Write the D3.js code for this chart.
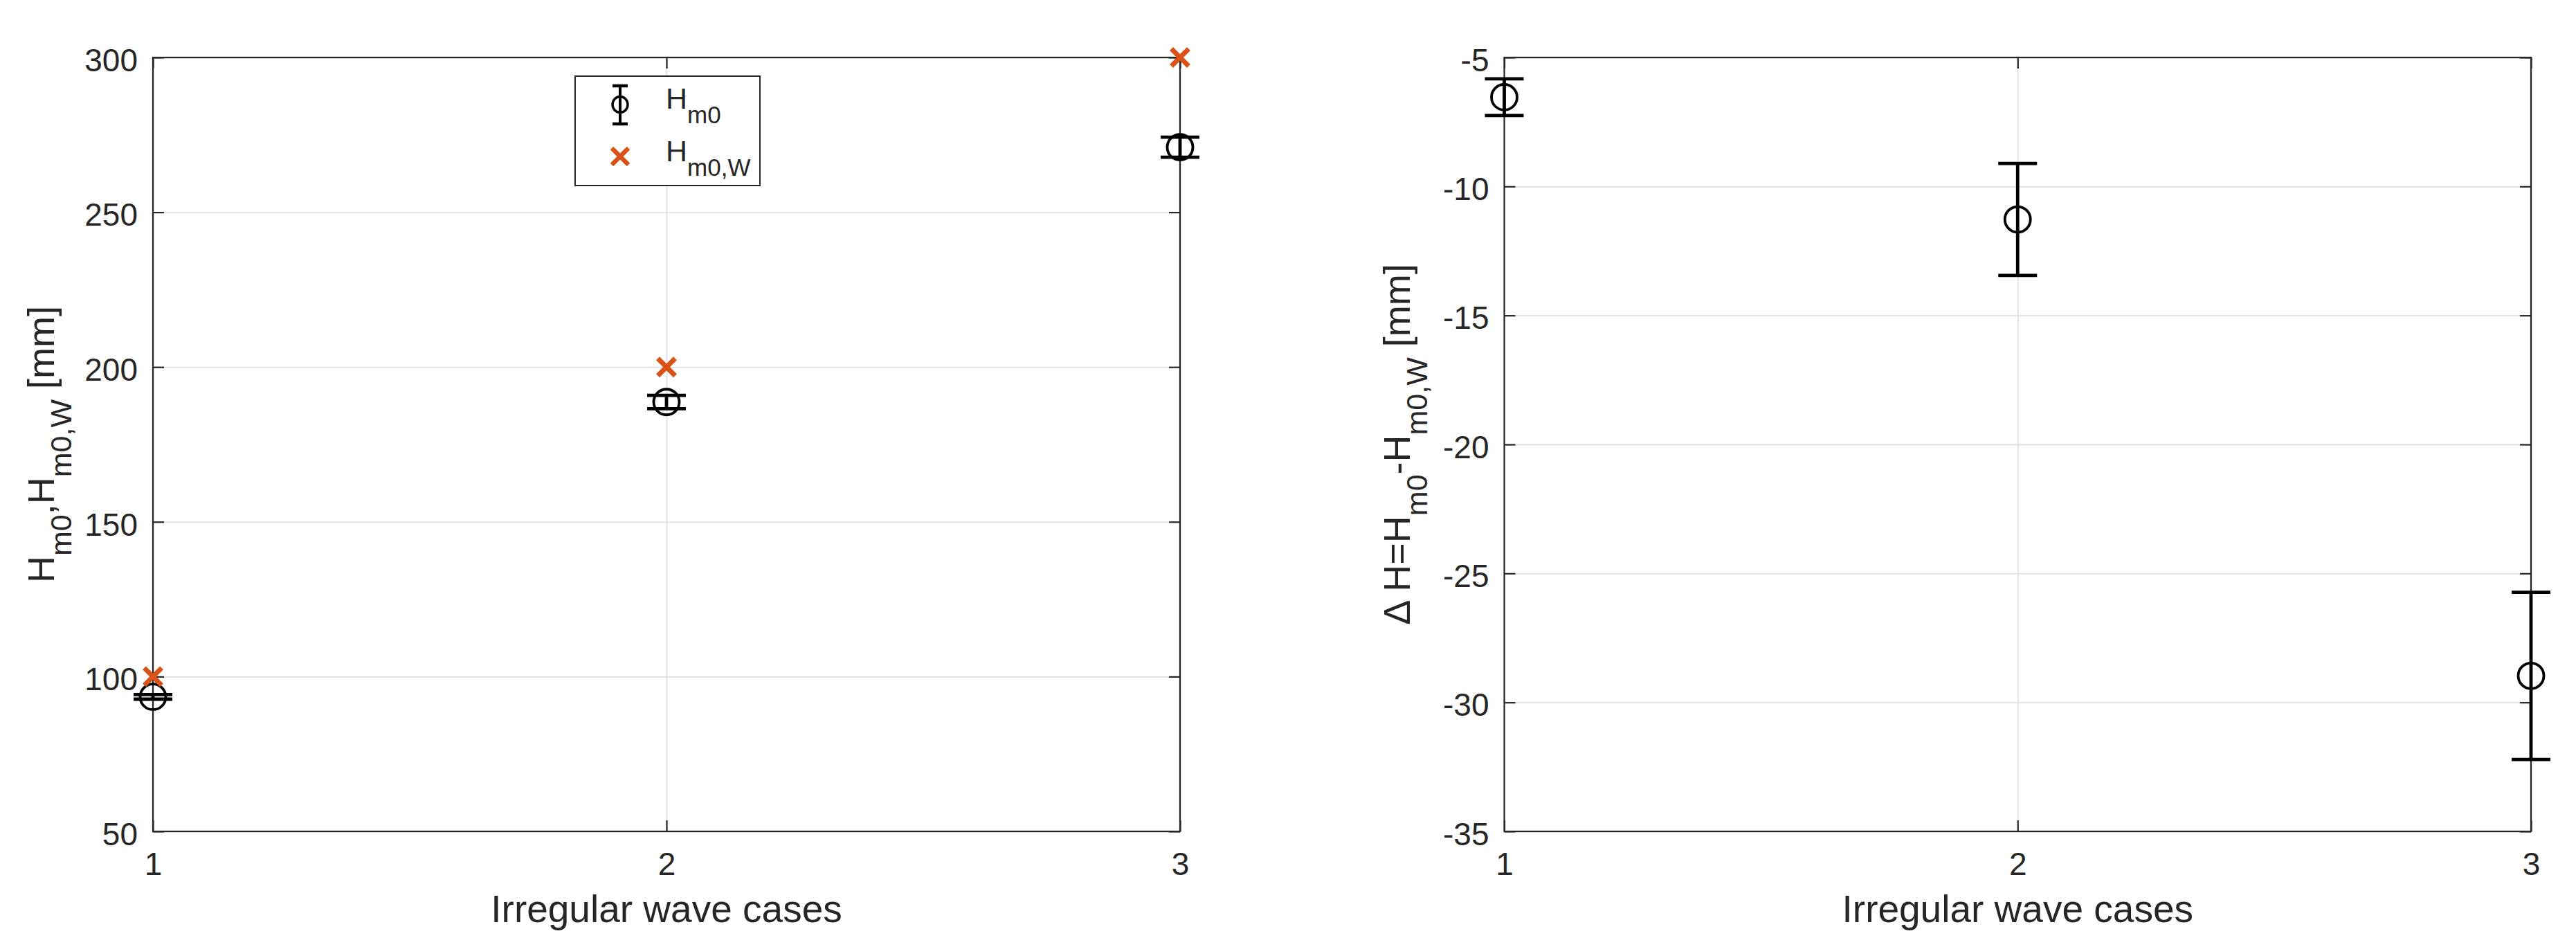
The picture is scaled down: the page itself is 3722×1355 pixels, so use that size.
<!DOCTYPE html>
<html>
<head>
<meta charset="utf-8">
<script src="https://cdn.jsdelivr.net/npm/d3@7"></script>
<style>
  body { margin: 0; background: #fff; }
  svg { display: block; }
  text { font-family: "Liberation Sans", Arial, Helvetica, sans-serif; fill: #262626; }
</style>
</head>
<body>
<div class="mainCont"></div>
<script>
// data
var cases = [1, 2, 3];
var hm0 = [93.46, 188.7, 271.0];
var hm0Err = [0.75, 2.17, 3.24];
var hm0W = [100, 200, 300];
var dH = [-6.54, -11.28, -28.97];
var dHErr = [0.71, 2.17, 3.24];
var xTicks = [1, 2, 3];
var leftTicks = [50, 100, 150, 200, 250, 300];
var rightTicks = [-35, -30, -25, -20, -15, -10, -5];

var W = 3722, H = 1355;
var axisColor = "#262626", gridColor = "#dfdfdf", orange = "#D95319";

var svg = d3.select(".mainCont").append("svg")
    .attr("width", W)
    .attr("height", H);
svg.append("rect").attr("width", W).attr("height", H).attr("fill", "#fff");

function panel(opt) {
    var w = opt.x1 - opt.x0, h = opt.y1 - opt.y0;
    var x = d3.scaleLinear().domain([1, 3]).range([0, w]);
    var y = d3.scaleLinear().domain(opt.yDomain).range([h, 0]);

    var g = svg.append("g").attr("transform", "translate(" + opt.x0 + "," + opt.y0 + ")");

    // grid
    var gy = g.append("g").call(d3.axisLeft(y).tickValues(opt.yTicks).tickSize(-w).tickFormat(""));
    var gx = g.append("g").attr("transform", "translate(0," + h + ")")
        .call(d3.axisBottom(x).tickValues(xTicks).tickSize(-h).tickFormat(""));
    [gy, gx].forEach(function(a) {
        a.select(".domain").remove();
        a.selectAll("line").attr("stroke", gridColor).attr("stroke-width", 1.8);
    });

    // box
    g.append("rect").attr("width", w).attr("height", h)
        .attr("fill", "none").attr("stroke", axisColor).attr("stroke-width", 2.2);

    // axes with inward ticks, plain hyphen for minus like the original
    var plain = function(d) { return String(d); };
    var left = g.append("g").call(d3.axisLeft(y).tickValues(opt.yTicks).tickSizeInner(-16).tickSizeOuter(0).tickPadding(22).tickFormat(plain));
    var right = g.append("g").attr("transform", "translate(" + w + ",0)")
        .call(d3.axisRight(y).tickValues(opt.yTicks).tickSizeInner(-16).tickSizeOuter(0).tickFormat(""));
    var bottom = g.append("g").attr("transform", "translate(0," + h + ")")
        .call(d3.axisBottom(x).tickValues(xTicks).tickSizeInner(-16).tickSizeOuter(0).tickPadding(30).tickFormat(plain));
    var top = g.append("g")
        .call(d3.axisTop(x).tickValues(xTicks).tickSizeInner(-16).tickSizeOuter(0).tickFormat(""));
    [left, right, bottom, top].forEach(function(a) {
        a.select(".domain").remove();
        a.selectAll("line").attr("stroke", axisColor).attr("stroke-width", 2.2);
        a.attr("font-family", null).attr("font-size", null);
        a.selectAll("text").attr("fill", axisColor).style("font-size", "46px");
    });
    left.selectAll("text").attr("dy", "0.42em");

    // x label
    g.append("text")
        .attr("x", w / 2).attr("y", 1332 - opt.y0)
        .attr("text-anchor", "middle")
        .style("font-size", "55px")
        .text("Irregular wave cases");

    // y label with subscripts
    var yl = g.append("text")
        .attr("transform", "translate(" + (opt.ylabX - opt.x0) + "," + (h / 2) + ") rotate(-90)")
        .attr("text-anchor", "middle")
        .style("font-size", "54px");
    opt.ylabel.forEach(function(p) {
        var t = yl.append("tspan").text(p[0]);
        if (p[1] === "sub") t.style("font-size", "43px").attr("dy", 25);
        if (p[1] === "back") t.attr("dy", -25);
    });

    // error bars
    var pts = cases.map(function(c, i) { return { c: c, v: opt.vals[i], e: opt.errs[i] }; });
    var eb = g.selectAll(".eb").data(pts).enter().append("g").attr("class", "eb");
    eb.append("line")
        .attr("x1", function(d) { return x(d.c); }).attr("x2", function(d) { return x(d.c); })
        .attr("y1", function(d) { return y(d.v + d.e); }).attr("y2", function(d) { return y(d.v - d.e); })
        .attr("stroke", "#000").attr("stroke-width", 4.8);
    [1, -1].forEach(function(s) {
        eb.append("line")
            .attr("x1", function(d) { return x(d.c) - 28; }).attr("x2", function(d) { return x(d.c) + 28; })
            .attr("y1", function(d) { return y(d.v + s * d.e); }).attr("y2", function(d) { return y(d.v + s * d.e); })
            .attr("stroke", "#000").attr("stroke-width", 4.8);
    });
    eb.append("circle")
        .attr("cx", function(d) { return x(d.c); }).attr("cy", function(d) { return y(d.v); })
        .attr("r", 18.5).attr("fill", "none").attr("stroke", "#000").attr("stroke-width", 3.8);

    if (opt.crosses) {
        g.selectAll(".cross").data(opt.crosses).enter().append("path")
            .attr("class", "cross")
            .attr("d", function(d, i) { return crossPath(x(cases[i]), y(d), 12.5); })
            .attr("stroke", orange).attr("stroke-width", 7).attr("fill", "none");
    }
    return g;
}

function crossPath(cx, cy, s) {
    return "M" + (cx - s) + "," + (cy - s) + "L" + (cx + s) + "," + (cy + s) +
        "M" + (cx - s) + "," + (cy + s) + "L" + (cx + s) + "," + (cy - s);
}

panel({
    x0: 221, x1: 1705, y0: 83, y1: 1201,
    yDomain: [50, 300], yTicks: leftTicks,
    vals: hm0, errs: hm0Err, crosses: hm0W,
    ylabX: 78,
    ylabel: [["H"], ["m0", "sub"], [",H", "back"], ["m0,W", "sub"], [" [mm]", "back"]]
});

panel({
    x0: 2173.5, x1: 3657, y0: 83, y1: 1201,
    yDomain: [-35, -5], yTicks: rightTicks,
    vals: dH, errs: dHErr, crosses: null,
    ylabX: 2037,
    ylabel: [["\u0394 H=H"], ["m0", "sub"], ["-H", "back"], ["m0,W", "sub"], [" [mm]", "back"]]
});

// legend (left panel)
var leg = svg.append("g");
leg.append("rect").attr("x", 831).attr("y", 110).attr("width", 267).attr("height", 158)
    .attr("fill", "#fff").attr("stroke", axisColor).attr("stroke-width", 2);
leg.append("line").attr("x1", 896).attr("x2", 896).attr("y1", 124).attr("y2", 179)
    .attr("stroke", "#000").attr("stroke-width", 4);
[124, 179].forEach(function(yy) {
    leg.append("line").attr("x1", 885).attr("x2", 907).attr("y1", yy).attr("y2", yy)
        .attr("stroke", "#000").attr("stroke-width", 4.5);
});
leg.append("ellipse").attr("cx", 896).attr("cy", 151).attr("rx", 11).attr("ry", 11.5)
    .attr("fill", "none").attr("stroke", "#000").attr("stroke-width", 3.5);
leg.append("path").attr("d", crossPath(896, 226, 12))
    .attr("stroke", orange).attr("stroke-width", 6.5).attr("fill", "none");

var legLabels = [["m0", 157], ["m0,W", 233]];
legLabels.forEach(function(l) {
    var t = leg.append("text").attr("x", 962).attr("y", l[1]).style("font-size", "43px");
    t.append("tspan").text("H");
    t.append("tspan").attr("dy", 21).style("font-size", "35px").text(l[0]);
});
</script>
</body>
</html>
